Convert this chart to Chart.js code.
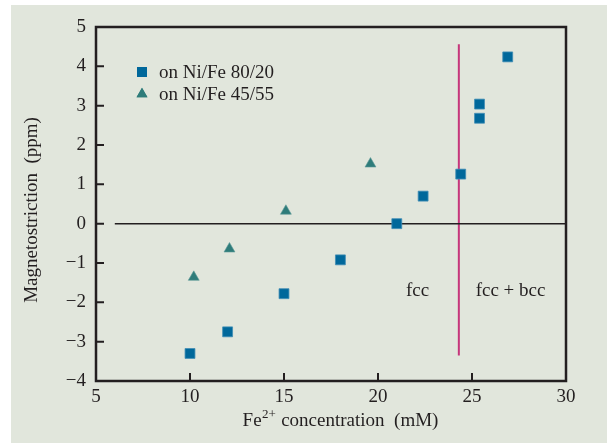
<!DOCTYPE html>
<html>
<head>
<meta charset="utf-8">
<script src="https://cdn.jsdelivr.net/npm/chart.js@4.4.0/dist/chart.umd.min.js"></script>
<style>
  html, body { margin: 0; padding: 0; background: #ffffff; }
  #panel { position: absolute; left: 11px; top: 5px; width: 596px; height: 438px; background: #e1e6dc; }
  #chart { position: absolute; left: 0; top: 0; }
</style>
</head>
<body>
<div id="panel"></div>
<canvas id="chart" width="611" height="443"></canvas>
<script>
// data
const ni8020X = [10, 12, 15, 18, 21, 22.4, 24.4, 25.4, 25.4, 26.9];
const ni8020Y = [-3.3, -2.75, -1.78, -0.92, 0, 0.7, 1.26, 2.68, 3.04, 4.24];
const ni4555X = [10.2, 12.1, 15.1, 19.6];
const ni4555Y = [-1.36, -0.64, 0.32, 1.52];
const seriesLabels = ["on Ni/Fe 80/20", "on Ni/Fe 45/55"];

const zeroLineX = [6.0, 30];
const zeroLineY = [0, 0];
const boundaryX = [24.3, 24.3];
const boundaryY = [-3.35, 4.56];

const xTicks = [5, 10, 15, 20, 25, 30];
const yTicks = [-4, -3, -2, -1, 0, 1, 2, 3, 4, 5];

const regionLabels = ["fcc", "fcc + bcc"];
const regionX = [22.1, 27.05];
const regionY = [-1.7, -1.7];

const SERIF = "'Liberation Serif', 'DejaVu Serif', serif";
const INK = "#231f20";
const BLUE = "#00689b";
const TEAL = "#2e7c7a";

function pts(xs, ys) {
    return xs.map((x, i) => ({ x: x, y: ys[i] }));
}

const decorations = {
    id: "decorations",
    afterDraw(chart) {
        const ctx = chart.ctx;
        const area = chart.chartArea;
        const xs = chart.scales.x;
        const ys = chart.scales.y;
        ctx.save();

        // frame
        ctx.strokeStyle = INK;
        ctx.lineWidth = 2.5;
        ctx.strokeRect(area.left, area.top, area.right - area.left, area.bottom - area.top);

        // inward ticks
        ctx.lineWidth = 2;
        ctx.beginPath();
        xTicks.slice(1, -1).forEach(v => {
            const px = xs.getPixelForValue(v);
            ctx.moveTo(px, area.bottom);
            ctx.lineTo(px, area.bottom - 8);
        });
        yTicks.slice(1, -1).forEach(v => {
            const py = ys.getPixelForValue(v);
            ctx.moveTo(area.left, py);
            ctx.lineTo(area.left + 8, py);
        });
        ctx.stroke();

        ctx.fillStyle = INK;
        ctx.font = "19px " + SERIF;

        // region labels
        ctx.textAlign = "center";
        ctx.textBaseline = "middle";
        regionLabels.forEach((t, i) => {
            ctx.fillText(t, xs.getPixelForValue(regionX[i]), ys.getPixelForValue(regionY[i]));
        });

        // legend
        ctx.textAlign = "left";
        const legendY = [72, 94];
        seriesLabels.forEach((t, i) => {
            const ds = chart.data.datasets[i];
            ctx.save();
            ctx.fillStyle = ds.backgroundColor;
            Chart.helpers.drawPoint(ctx, { pointStyle: ds.pointStyle, radius: ds.pointRadius, rotation: 0, borderWidth: 0 }, 142, legendY[i]);
            ctx.fill();
            ctx.restore();
            ctx.fillText(t, 159, legendY[i] + 1);
        });

        // x title with superscript
        const cx = 340, base = 426;
        ctx.textBaseline = "alphabetic";
        const p1 = "Fe", p2 = "2+", p3 = " concentration  (mM)";
        ctx.font = "19px " + SERIF;
        const w1 = ctx.measureText(p1).width;
        const w3 = ctx.measureText(p3).width;
        ctx.font = "13px " + SERIF;
        const w2 = ctx.measureText(p2).width;
        const x0 = cx - (w1 + w2 + w3) / 2;
        ctx.font = "19px " + SERIF;
        ctx.fillText(p1, x0, base);
        ctx.font = "13px " + SERIF;
        ctx.fillText(p2, x0 + w1 + 0.5, base - 8);
        ctx.font = "19px " + SERIF;
        ctx.fillText(p3, x0 + w1 + w2 + 1, base);

        // y title
        ctx.translate(32, 210);
        ctx.rotate(-Math.PI / 2);
        ctx.textAlign = "center";
        ctx.textBaseline = "middle";
        ctx.fillText("Magnetostriction  (ppm)", 0, 0);

        ctx.restore();
    }
};

new Chart(document.getElementById("chart"), {
    type: "scatter",
    data: {
        datasets: [
            {
                label: seriesLabels[0],
                data: pts(ni8020X, ni8020Y),
                pointStyle: "rect",
                pointRadius: 7,
                backgroundColor: BLUE,
                borderColor: "#3f8db5",
                borderWidth: 0.8
            },
            {
                label: seriesLabels[1],
                data: pts(ni4555X, ni4555Y),
                pointStyle: "triangle",
                pointRadius: 6.3,
                backgroundColor: TEAL,
                borderColor: "#5e9a98",
                borderWidth: 0.6
            },
            {
                type: "line",
                data: pts(zeroLineX, zeroLineY),
                borderColor: INK,
                borderWidth: 1.5,
                pointRadius: 0
            },
            {
                type: "line",
                data: pts(boundaryX, boundaryY),
                borderColor: "#c6367b",
                borderWidth: 2,
                pointRadius: 0
            }
        ]
    },
    options: {
        responsive: false,
        animation: false,
        devicePixelRatio: 1,
        layout: { padding: { top: 27, right: 45, left: 0, bottom: 0 } },
        plugins: {
            legend: { display: false },
            tooltip: { enabled: false }
        },
        scales: {
            x: {
                type: "linear",
                min: 5,
                max: 30,
                afterBuildTicks: scale => { scale.ticks = xTicks.map(v => ({ value: v })); },
                afterFit: scale => { scale.height = 62; },
                grid: { display: false, drawTicks: false },
                border: { display: false },
                ticks: { color: INK, padding: 5, font: { family: SERIF, size: 19 } }
            },
            y: {
                min: -4,
                max: 5,
                afterBuildTicks: scale => { scale.ticks = yTicks.map(v => ({ value: v })); },
                afterFit: scale => { scale.width = 96; },
                grid: { display: false, drawTicks: false },
                border: { display: false },
                ticks: {
                    color: INK,
                    padding: 10,
                    font: { family: SERIF, size: 19 },
                    callback: v => String(v).replace("-", "\u2212")
                }
            }
        }
    },
    plugins: [decorations]
});
</script>
</body>
</html>
